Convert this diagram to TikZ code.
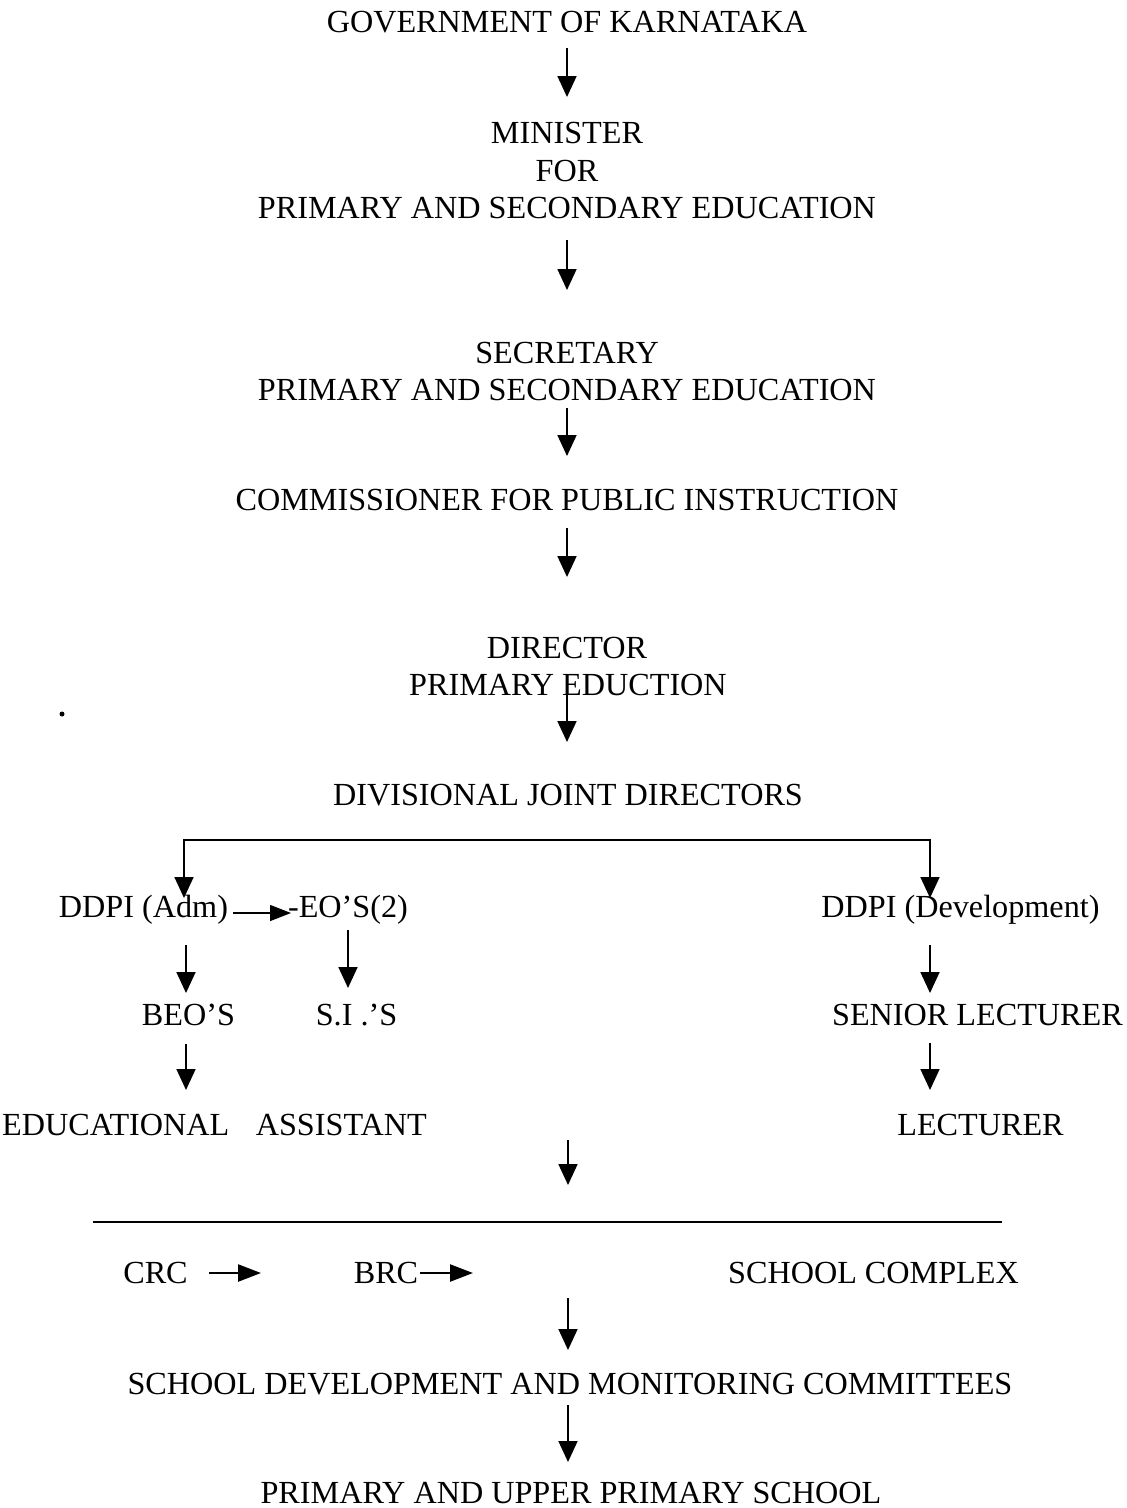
\documentclass[tikz,border=0pt]{standalone}
\usepackage{fontspec}
\setmainfont{Liberation Serif}
\usetikzlibrary{arrows.meta}
\tikzset{
  lbl/.style={font=\fontsize{32.2}{38}\selectfont, inner sep=0pt, anchor=base},
  arr/.style={line width=1.8pt, -{Triangle[width=19pt,length=21pt]}},
  sarr/.style={line width=1.4pt, -{Triangle[width=16pt,length=21pt]}},
  harr/.style={line width=2.4pt, -{Triangle[width=17pt,length=23pt]}},
  rule/.style={line width=1.6pt}
}
\begin{document}
\begin{tikzpicture}[x=1pt,y=-1pt]
\fill[white] (0,0) rectangle (1127,1508);
\useasboundingbox (0,0) rectangle (1127,1508);

% nodes
\node[lbl] (gov)   at (567,32)  {GOVERNMENT OF KARNATAKA};
\node[lbl] (min1)  at (567,143) {MINISTER};
\node[lbl] (min2)  at (567,181) {FOR};
\node[lbl] (min3)  at (567,218) {PRIMARY AND SECONDARY EDUCATION};
\node[lbl] (sec1)  at (567,363) {SECRETARY};
\node[lbl] (sec2)  at (567,400) {PRIMARY AND SECONDARY EDUCATION};
\node[lbl] (com)   at (567,510) {COMMISSIONER FOR PUBLIC INSTRUCTION};
\node[lbl] (dir1)  at (567,658) {DIRECTOR};
\node[lbl] (dir2)  at (568,695) {PRIMARY EDUCTION};
\node[lbl] (div)   at (568,805) {DIVISIONAL JOINT DIRECTORS};
\node[lbl] (ddpia) at (143.5,917) {DDPI (Adm)};
\node[lbl] (eos)   at (348,917) {-EO’S(2)};
\node[lbl] (ddpid) at (960.5,917) {DDPI (Development)};
\node[lbl] (beo)   at (188.5,1025) {BEO’S};
\node[lbl] (sis)   at (356.5,1025) {S.I .’S};
\node[lbl] (senl)  at (977.5,1025) {SENIOR LECTURER};
\node[lbl, anchor=base west] (educ) at (2,1135) {EDUCATIONAL};
\node[lbl, anchor=base east] (asst) at (427,1135) {ASSISTANT};
\node[lbl] (lect)  at (980.5,1135) {LECTURER};
\node[lbl] (crc)   at (155.5,1283) {CRC};
\node[lbl] (brc)   at (386,1283) {BRC};
\node[lbl] (scx)   at (873.5,1283) {SCHOOL COMPLEX};
\node[lbl] (sdmc)  at (570,1394) {SCHOOL DEVELOPMENT AND MONITORING COMMITTEES};
\node[lbl] (pups)  at (571,1503) {PRIMARY AND UPPER PRIMARY SCHOOL};

% connector end points
\coordinate (a1s) at (567,48);   \coordinate (a1e) at (567,97);
\coordinate (a2s) at (567,240);  \coordinate (a2e) at (567,290);
\coordinate (a3s) at (567,408);  \coordinate (a3e) at (567,456);
\coordinate (a4s) at (567,528);  \coordinate (a4e) at (567,577);
\coordinate (a5s) at (567,690);  \coordinate (a5e) at (567,742);
\coordinate (hmid) at (560,840);
\coordinate (tipa) at (184,898); \coordinate (tipd) at (930,898);
\coordinate (a8s) at (233,913);  \coordinate (a8e) at (291,913);
\coordinate (a9s) at (186,945);  \coordinate (a9e) at (186,993);
\coordinate (a10s) at (348,930); \coordinate (a10e) at (348,988);
\coordinate (a11s) at (186,1044);\coordinate (a11e) at (186,1090);
\coordinate (a12s) at (930,945); \coordinate (a12e) at (930,993);
\coordinate (a13s) at (930,1043);\coordinate (a13e) at (930,1090);
\coordinate (a14s) at (568,1140);\coordinate (a14e) at (568,1185);
\coordinate (rl) at (93,1222);   \coordinate (rr) at (1002,1222);
\coordinate (a15s) at (209,1273);\coordinate (a15e) at (261,1273);
\coordinate (a16s) at (420,1273);\coordinate (a16e) at (473,1273);
\coordinate (a17s) at (568,1298);\coordinate (a17e) at (568,1350);
\coordinate (a18s) at (568,1405);\coordinate (a18e) at (568,1462);

% connectors
\draw[arr] (a1s) -- (a1e);
\draw[arr] (a2s) -- (a2e);
\draw[arr] (a3s) -- (a3e);
\draw[arr] (a4s) -- (a4e);
\draw[arr] (a5s) -- (a5e);
\draw[arr] (hmid) -| (tipa);
\draw[arr] (hmid) -| (tipd);
\draw[sarr] (a8s) -- (a8e);
\draw[arr] (a9s) -- (a9e);
\draw[arr] (a10s) -- (a10e);
\draw[arr] (a11s) -- (a11e);
\draw[arr] (a12s) -- (a12e);
\draw[arr] (a13s) -- (a13e);
\draw[arr] (a14s) -- (a14e);
\draw[rule] (rl) -- (rr);
\draw[harr] (a15s) -- (a15e);
\draw[harr] (a16s) -- (a16e);
\draw[arr] (a17s) -- (a17e);
\draw[arr] (a18s) -- (a18e);

% stray dot
\fill (62,714) circle (2.5);
\end{tikzpicture}
\end{document}
